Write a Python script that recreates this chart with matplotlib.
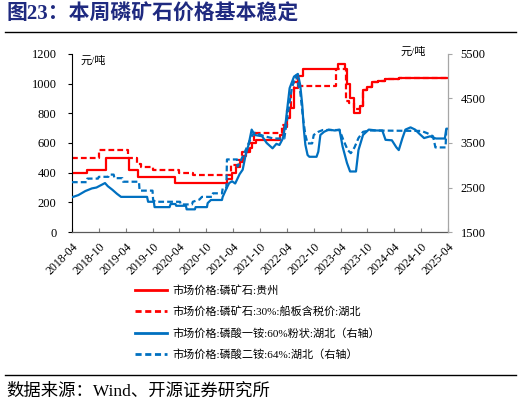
import matplotlib
matplotlib.use("Agg")
import matplotlib.pyplot as plt
import matplotlib.dates as mdates
import pandas as pd
from matplotlib.lines import Line2D

plt.rcParams["font.family"] = ["Liberation Serif", "Noto Sans CJK SC"]
plt.rcParams["axes.unicode_minus"] = False

RED = "#FF0000"
BLUE = "#0070C0"
NAVY = "#1F2A80"

# 市场价格:磷矿石:贵州 (left axis, step data)
gz_dates = ["2018-04-01", "2018-07-10", "2018-11-22", "2019-04-25", "2019-06-22",
            "2020-03-01", "2021-02-20", "2021-03-22", "2021-04-18", "2021-05-15",
            "2021-06-05", "2021-06-27", "2021-07-24", "2021-08-06", "2021-09-03",
            "2022-02-15", "2022-03-12", "2022-04-01", "2022-04-22", "2022-05-18",
            "2022-06-15", "2022-07-18", "2023-03-13", "2023-05-01", "2023-05-13",
            "2023-06-03", "2023-07-01", "2023-08-10", "2023-09-01", "2023-09-28",
            "2023-11-01", "2023-12-12", "2024-01-28", "2024-03-15", "2024-05-01",
            "2025-04-01"]
gz_vals = [400, 420, 500, 420, 370,
           330, 360, 395, 440, 475,
           510, 540, 565, 600, 620,
           655, 710, 770, 835, 970,
           1050, 1100, 1135, 1100, 1000,
           900, 800, 850, 960, 980,
           1010, 1020, 1030, 1030, 1040,
           1040]

# 市场价格:磷矿石:30%:船板含税价:湖北 (left axis, step data)
hb_dates = ["2018-04-01", "2018-10-05", "2019-04-20", "2019-06-15", "2019-07-15",
            "2019-10-05", "2020-04-01", "2020-07-01", "2021-03-20", "2021-05-01",
            "2021-06-01", "2021-07-20", "2021-08-20", "2022-03-01", "2022-04-05",
            "2022-05-01", "2022-05-20", "2022-06-25", "2023-03-01", "2023-05-10",
            "2023-06-01", "2023-07-01", "2023-08-10", "2023-09-01", "2023-09-28",
            "2023-11-01", "2023-12-12", "2024-01-28", "2024-05-01", "2025-04-01"]
hb_vals = [500, 550, 500, 460, 440,
           420, 400, 385, 450, 485,
           540, 600, 665, 720, 820,
           945, 1010, 985, 1100, 880,
           870, 830, 850, 960, 980,
           1010, 1020, 1030, 1040, 1040]

# 市场价格:磷酸一铵:60%粉状:湖北 (right axis)
map_dates = ["2018-04-01", "2018-05-15", "2018-07-01", "2018-08-15", "2018-09-15",
             "2018-11-12", "2018-12-01", "2019-01-01", "2019-02-01", "2019-03-01",
             "2019-08-25", "2019-09-01", "2019-10-10", "2019-10-15", "2020-01-25",
             "2020-02-01", "2020-03-05", "2020-03-10", "2020-05-15", "2020-05-20",
             "2020-07-15", "2020-07-20", "2020-10-05", "2020-10-10", "2020-11-01",
             "2021-01-15", "2021-01-20", "2021-02-15", "2021-03-05", "2021-03-25",
             "2021-04-15", "2021-05-15", "2021-06-05", "2021-06-25", "2021-07-15",
             "2021-08-05", "2021-08-25", "2021-10-15", "2021-11-15", "2021-12-25",
             "2022-01-20", "2022-02-10", "2022-03-05", "2022-03-25", "2022-04-20",
             "2022-05-20", "2022-06-15", "2022-07-01", "2022-07-15", "2022-07-25",
             "2022-08-05", "2022-08-20", "2022-09-01", "2022-10-20", "2022-11-01",
             "2022-11-15", "2022-12-10", "2023-01-10", "2023-02-20", "2023-03-25",
             "2023-04-15", "2023-05-15", "2023-06-05", "2023-07-15", "2023-08-01",
             "2023-09-01", "2023-10-10", "2023-12-01", "2024-01-10", "2024-02-01",
             "2024-03-15", "2024-04-15", "2024-05-01", "2024-05-25", "2024-06-15",
             "2024-07-20", "2024-08-20", "2024-09-20", "2024-10-20", "2024-12-01",
             "2024-12-20", "2025-01-10", "2025-03-10", "2025-03-20", "2025-04-01"]
map_vals = [2280, 2330, 2420, 2480, 2500,
            2600, 2530, 2450, 2360, 2290,
            2290, 2180, 2180, 2060, 2060,
            2130, 2130, 2090, 2090, 2010,
            2010, 2060, 2060, 2150, 2220,
            2220, 2290, 2480, 2600, 2640,
            2590, 2800, 2900, 3230, 3460,
            3800, 3680, 3650, 3500, 3380,
            3480, 3455, 3600, 3980, 4730,
            4990, 5050, 4800, 4350, 3830,
            3460, 3230, 3190, 3190, 3305,
            3680, 3750, 3800, 3780, 3800,
            3420, 3050, 2860, 2860, 3340,
            3680, 3800, 3780, 3780, 3570,
            3560, 3400, 3340, 3600, 3800,
            3850, 3800, 3700, 3610, 3650,
            3620, 3600, 3600, 3820, 3820]

# 市场价格:磷酸二铵:64%:湖北 (right axis)
dap_dates = ["2018-04-01", "2018-07-10", "2018-07-15", "2018-09-25", "2018-10-01",
             "2018-12-05", "2018-12-10", "2019-01-10", "2019-01-15", "2019-03-10",
             "2019-03-15", "2019-07-01", "2019-07-05", "2019-10-01", "2019-10-05",
             "2019-10-20", "2020-04-05", "2020-04-10", "2020-06-25", "2020-07-01",
             "2020-08-15", "2020-09-01", "2020-11-10", "2020-11-15", "2021-01-15",
             "2021-01-20", "2021-02-14", "2021-02-18", "2021-04-28", "2021-05-01",
             "2021-05-25", "2021-06-25", "2021-07-15", "2021-08-10", "2021-08-25",
             "2021-11-01", "2022-01-01", "2022-03-15", "2022-04-10", "2022-05-05",
             "2022-06-01", "2022-07-01", "2022-07-20", "2022-08-05", "2022-08-20",
             "2022-09-20", "2022-10-01", "2022-11-01", "2022-12-01", "2023-03-25",
             "2023-04-20", "2023-05-20", "2023-06-10", "2023-07-05", "2023-08-01",
             "2023-09-01", "2023-10-15", "2024-10-01", "2024-11-10", "2024-12-20",
             "2025-01-05", "2025-03-15", "2025-03-20", "2025-04-01"]
dap_vals = [2620, 2620, 2700, 2700, 2740,
            2740, 2790, 2790, 2710, 2710,
            2630, 2630, 2430, 2430, 2220,
            2180, 2180, 2120, 2120, 2180,
            2230, 2290, 2290, 2370, 2370,
            2480, 2480, 3130, 3130, 2970,
            3120, 3340, 3490, 3680, 3730,
            3650, 3600, 3600, 4200, 4730,
            5010, 4650, 4060, 3680, 3490,
            3490, 3680, 3750, 3790, 3790,
            3570, 3340, 3270, 3400, 3610,
            3750, 3780, 3770, 3720, 3650,
            3400, 3400, 3800, 3800]

left_ticks = [0, 200, 400, 600, 800, 1000, 1200]
right_ticks = [1500, 2500, 3500, 4500, 5500]

fig = plt.figure(figsize=(5.21, 4.05), dpi=100)
ax = fig.add_axes([0.138, 0.427, 0.722, 0.44])
ax2 = ax.twinx()

l1, = ax.plot(pd.to_datetime(gz_dates), gz_vals, color=RED, lw=1.6,
              drawstyle="steps-post")
l2, = ax.plot(pd.to_datetime(hb_dates), hb_vals, color=RED, lw=1.6,
              ls=(0, (2.6, 1.4)), drawstyle="steps-post")
l3, = ax2.plot(pd.to_datetime(map_dates), map_vals, color=BLUE, lw=1.6)
l4, = ax2.plot(pd.to_datetime(dap_dates), dap_vals, color=BLUE, lw=1.6,
               ls=(0, (2.6, 1.4)))

ax.set_xlim(pd.Timestamp("2018-04-01"), pd.Timestamp("2025-04-01"))
ax.set_ylim(0, 1200)
ax2.set_ylim(1500, 5500)
ax.set_yticks(left_ticks)
ax2.set_yticks(right_ticks)

xt = pd.date_range("2018-04-01", "2025-04-01", freq="6MS")
ax.set_xticks(xt)
ax.xaxis.set_major_formatter(mdates.DateFormatter("%Y-%m"))
for lab in ax.get_xticklabels():
    lab.set_rotation(45)
    lab.set_ha("right")
    lab.set_rotation_mode("anchor")

ax.tick_params(axis="y", direction="out", length=3, width=0.8, pad=8,
               labelsize=9, colors="black")
ax.tick_params(axis="x", direction="in", length=3, width=0.8, pad=6,
               labelsize=8.5, color="#7F7F7F")
ax2.tick_params(axis="y", direction="out", length=3, width=0.8, pad=6,
                labelsize=9, color="#A6A6A6", labelcolor="black")

for a in (ax, ax2):
    a.spines["top"].set_visible(False)
ax.spines["right"].set_visible(False)
ax2.spines["left"].set_visible(False)
ax2.spines["bottom"].set_visible(False)
ax.spines["left"].set_color("black")
ax.spines["left"].set_linewidth(0.8)
ax.spines["bottom"].set_color("#595959")
ax.spines["bottom"].set_linewidth(0.9)
ax2.spines["right"].set_color("#A6A6A6")
ax2.spines["right"].set_linewidth(0.9)

fig.text(0.154, 0.849, "元/吨", fontsize=8, va="center", ha="left")
fig.text(0.768, 0.872, "元/吨", fontsize=8, va="center", ha="left")

labels = ["市场价格:磷矿石:贵州",
          "市场价格:磷矿石:30%:船板含税价:湖北",
          "市场价格:磷酸一铵:60%粉状:湖北（右轴）",
          "市场价格:磷酸二铵:64%:湖北（右轴）"]
handles = [Line2D([], [], color=RED, lw=2),
           Line2D([], [], color=RED, lw=2, ls=(0, (2.2, 1.3))),
           Line2D([], [], color=BLUE, lw=2),
           Line2D([], [], color=BLUE, lw=2, ls=(0, (2.2, 1.3)))]
fig.legend(handles, labels, loc="upper left", bbox_to_anchor=(0.259, 0.296),
           frameon=False, fontsize=8, handlelength=2.9, handletextpad=0.45,
           labelspacing=0.95, borderpad=0, borderaxespad=0)

fig.text(0.013, 0.963, "图23：本周磷矿石价格基本稳定", fontsize=15,
         fontweight="bold", color=NAVY, va="center", ha="left")
fig.add_artist(Line2D([0.01, 0.99], [0.922, 0.922], color="black", lw=1,
                      transform=fig.transFigure))
fig.add_artist(Line2D([0.01, 0.99], [0.074, 0.074], color="black", lw=1,
                      transform=fig.transFigure))
fig.text(0.013, 0.033, "数据来源：Wind、开源证券研究所", fontsize=12.5,
         va="center", ha="left")

fig.savefig("out.png", dpi=100)
